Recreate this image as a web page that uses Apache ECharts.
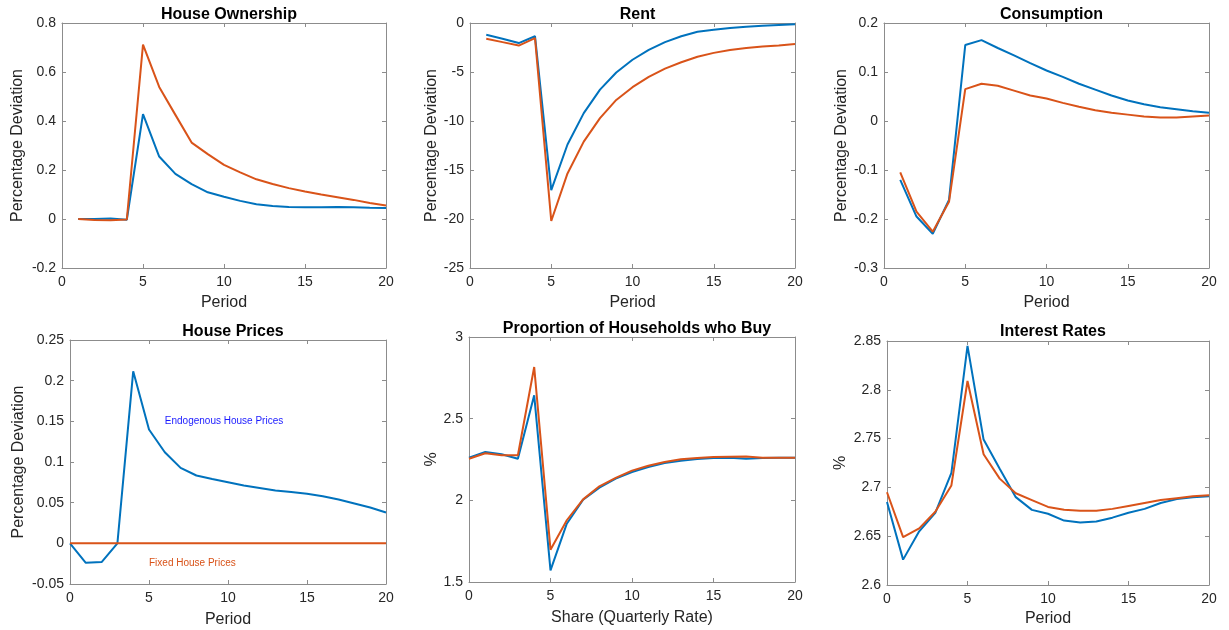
<!DOCTYPE html>
<html>
<head>
<meta charset="utf-8">
<script src="https://cdn.jsdelivr.net/npm/echarts@6/dist/echarts.min.js"></script>
<style>
html,body{margin:0;padding:0;background:#fff;}
#c{width:1229px;height:630px;}
</style>
</head>
<body>
<div id="c"></div>
<script>
// ---- data ----
const periods1 = [1,2,3,4,5,6,7,8,9,10,11,12,13,14,15,16,17,18,19,20];
const periods0 = [0,1,2,3,4,5,6,7,8,9,10,11,12,13,14,15,16,17,18,19,20];

const ownBlue   = [0,0,0.002,-0.003,0.428,0.255,0.184,0.142,0.109,0.091,0.074,0.060,0.053,0.049,0.048,0.048,0.049,0.048,0.046,0.045];
const ownOrange = [0,-0.004,-0.005,-0.002,0.712,0.539,0.425,0.312,0.265,0.221,0.190,0.162,0.143,0.126,0.112,0.100,0.089,0.078,0.065,0.055];

const rentBlue   = [-1.2,-1.6,-2.05,-1.35,-17.05,-12.4,-9.2,-6.8,-5.05,-3.75,-2.75,-1.95,-1.35,-0.9,-0.7,-0.5,-0.38,-0.28,-0.2,-0.12];
const rentOrange = [-1.6,-1.95,-2.3,-1.55,-20.2,-15.35,-12.1,-9.7,-7.85,-6.55,-5.5,-4.65,-4.0,-3.45,-3.05,-2.75,-2.55,-2.4,-2.3,-2.15];

const consBlue   = [-0.120,-0.195,-0.230,-0.161,0.155,0.165,0.149,0.134,0.118,0.103,0.090,0.076,0.064,0.052,0.042,0.034,0.028,0.024,0.020,0.017];
const consOrange = [-0.105,-0.185,-0.226,-0.165,0.065,0.076,0.072,0.062,0.052,0.046,0.037,0.029,0.022,0.017,0.013,0.009,0.007,0.007,0.009,0.011];

const priceBlue   = [0,-0.024,-0.023,0,0.2115,0.140,0.112,0.0928,0.0834,0.079,0.075,0.071,0.068,0.065,0.063,0.061,0.058,0.054,0.049,0.044,0.038];
const priceOrange = [0,0,0,0,0,0,0,0,0,0,0,0,0,0,0,0,0,0,0,0,0];

const buyBlue   = [2.261,2.296,2.282,2.255,2.643,1.571,1.857,2.004,2.078,2.133,2.173,2.204,2.229,2.243,2.253,2.259,2.261,2.255,2.259,2.261,2.261];
const buyOrange = [2.255,2.288,2.276,2.276,2.816,1.698,1.878,2.006,2.086,2.137,2.182,2.212,2.235,2.251,2.259,2.265,2.267,2.269,2.261,2.261,2.261];

const rateBlue   = [2.685,2.626,2.655,2.674,2.715,2.845,2.749,2.719,2.690,2.677,2.673,2.666,2.664,2.665,2.669,2.674,2.678,2.684,2.688,2.690,2.691];
const rateOrange = [2.695,2.649,2.658,2.675,2.702,2.809,2.734,2.709,2.694,2.687,2.680,2.677,2.676,2.676,2.678,2.681,2.684,2.687,2.689,2.691,2.692];

const titles = ['House Ownership','Rent','Consumption','House Prices','Proportion of Households who Buy','Interest Rates'];
const xNames = ['Period','Period','Period','Period','Share (Quarterly Rate)','Period'];
const yNames = ['Percentage Deviation','Percentage Deviation','Percentage Deviation','Percentage Deviation','%','%'];
const yRanges = [[-0.2,0.8,0.2],[-25,0,5],[-0.3,0.2,0.1],[-0.05,0.25,0.05],[1.5,3,0.5],[2.6,2.85,0.05]];
const annoTexts = ['Endogenous House Prices','Fixed House Prices'];
const annoPos = [[6,0.15],[5,-0.025]];

// ---- layout ----
const FONT = "'Liberation Sans', Arial, Helvetica, sans-serif";
const BLUE = '#0072BD', ORANGE = '#D95319';
const AX = '#8c8c8c', TXT = '#262626';
const grids = [
  {left:62, top:23, width:324, height:245},
  {left:470, top:23, width:325, height:245},
  {left:884, top:23, width:325, height:245},
  {left:70, top:340, width:316, height:244},
  {left:469, top:337, width:326, height:245},
  {left:887, top:341, width:322, height:244}
];
const yNameGaps = [36,30,34,43,29,38];
const xNameGaps = [27,27,27,28,28,26];
const titleTops = [2,2,2,319,316,319];

const seriesData = [
  [periods1, ownBlue, ownOrange],
  [periods0.slice(1), rentBlue, rentOrange],
  [periods1, consBlue, consOrange],
  [periods0, priceBlue, priceOrange],
  [periods0, buyBlue, buyOrange],
  [periods0, rateBlue, rateOrange]
];

function pairs(xs, ys){ return xs.map((x,i)=>[x, ys[i]]); }

const xAxes = [], yAxes = [], series = [], title = [];
grids.forEach((g,i)=>{
  const lineStyle = {color: AX, width: 1};
  xAxes.push({
    type:'value', gridIndex:i, position:'bottom', min:0, max:20, interval:5,
    name: xNames[i], nameLocation:'middle', nameGap: xNameGaps[i],
    nameTextStyle:{color:TXT, fontSize:16, fontFamily:FONT},
    axisLine:{show:true, onZero:false, lineStyle},
    axisTick:{show:true, inside:true, length:4, lineStyle},
    axisLabel:{color:TXT, fontSize:14, fontFamily:FONT, margin:7},
    splitLine:{show:false}
  });
  xAxes.push({
    type:'value', gridIndex:i, position:'top', min:0, max:20, interval:5,
    axisLine:{show:true, onZero:false, lineStyle},
    axisTick:{show:true, inside:true, length:4, lineStyle},
    axisLabel:{show:false}, splitLine:{show:false}
  });
  const r = yRanges[i];
  yAxes.push({
    type:'value', gridIndex:i, position:'left', min:r[0], max:r[1], interval:r[2],
    name: yNames[i], nameLocation:'middle', nameGap: yNameGaps[i], nameRotate:90,
    nameTextStyle:{color:TXT, fontSize:16, fontFamily:FONT},
    axisLine:{show:true, onZero:false, lineStyle},
    axisTick:{show:true, inside:true, length:4, lineStyle},
    axisLabel:{color:TXT, fontSize:14, fontFamily:FONT, margin:6},
    splitLine:{show:false}
  });
  yAxes.push({
    type:'value', gridIndex:i, position:'right', min:r[0], max:r[1], interval:r[2],
    axisLine:{show:true, onZero:false, lineStyle},
    axisTick:{show:true, inside:true, length:4, lineStyle},
    axisLabel:{show:false}, splitLine:{show:false}
  });
  const [xs, b, o] = seriesData[i];
  [[b,BLUE],[o,ORANGE]].forEach(([ys,col])=>{
    series.push({
      type:'line', xAxisIndex:2*i, yAxisIndex:2*i, data:pairs(xs, ys),
      showSymbol:false, symbol:'none', silent:true, animation:false,
      lineStyle:{color:col, width:2}, itemStyle:{color:col}
    });
  });
  title.push({
    text: titles[i], left: g.left + g.width/2, top: titleTops[i], textAlign:'center',
    textStyle:{color:'#000', fontSize:16, fontWeight:'bold', fontFamily:FONT}
  });
});

const chart = echarts.init(document.getElementById('c'), null, {renderer:'canvas', width:1229, height:630});
chart.setOption({
  backgroundColor:'#fff', animation:false,
  title, grid: grids.map(g=>Object.assign({containLabel:false}, g)),
  xAxis: xAxes, yAxis: yAxes, series
});

// annotations in House Prices panel, positioned by data coordinates
const annoColors = ['#1a1aff', ORANGE];
const graphic = annoTexts.map((t,k)=>{
  const p = chart.convertToPixel({xAxisIndex:6, yAxisIndex:6}, annoPos[k]);
  return {type:'text', x:p[0], y:p[1], style:{text:t, fill:annoColors[k], font:'10px '+FONT, textVerticalAlign:'middle', verticalAlign:'middle'}};
});
chart.setOption({graphic});
</script>
</body>
</html>
